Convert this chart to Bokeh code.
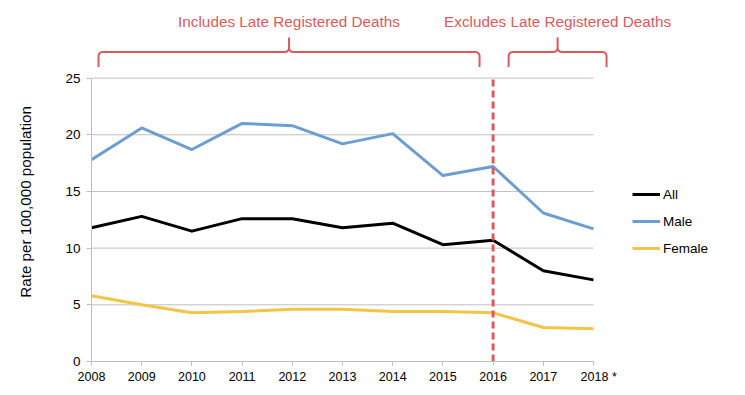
from bokeh.plotting import figure
from bokeh.models import Range1d, Legend, LegendItem, FixedTicker
from bokeh.embed import file_html
from bokeh.resources import INLINE
from bokeh.core.properties import value
import numpy as np

# ---- data ----
years = [2008, 2009, 2010, 2011, 2012, 2013, 2014, 2015, 2016, 2017, 2018]
all_rate = [11.8, 12.8, 11.5, 12.6, 12.6, 11.8, 12.2, 10.3, 10.7, 8.0, 7.2]
male_rate = [17.8, 20.6, 18.7, 21.0, 20.8, 19.2, 20.1, 16.4, 17.2, 13.1, 11.7]
female_rate = [5.8, 5.0, 4.3, 4.4, 4.6, 4.6, 4.4, 4.4, 4.3, 3.0, 2.9]
series_names = ["All", "Male", "Female"]
y_ticks = [0, 5, 10, 15, 20, 25]
y_label = "Rate per 100,000 population"
divider_year = 2016
period_labels = ["Includes Late Registered Deaths", "Excludes Late Registered Deaths"]
period_spans = [(2008.14, 2015.73), (2016.31, 2018.26)]
footnote_year = 2018
footnote_mark = "*"

# ---- style ----
FONT = "Liberation Sans"
RED = "#DC5A5E"
GRID = "#BFBFBF"
colors = ["#000000", "#6D9ED1", "#F4C446"]

W, H = 737, 387
LEFT, TOP, BOTTOM = 91, 8, 26
frame_w = W - LEFT
frame_h = H - TOP - BOTTOM
x_start = years[0]
x_end = years[0] + frame_w / 50.2
y_end = frame_h / 11.336

p = figure(width=W, height=H, output_backend="svg", toolbar_location=None,
           x_range=Range1d(x_start, x_end), y_range=Range1d(0, y_end),
           min_border_left=LEFT, min_border_bottom=BOTTOM, min_border_top=TOP,
           min_border_right=0)
p.outline_line_color = None
p.xgrid.visible = False
p.ygrid.visible = False
p.background_fill_color = "white"
p.border_fill_color = "white"

nb = "\u00a0"

# axes
xa = p.xaxis[0]
xa.ticker = FixedTicker(ticks=years)
xa.bounds = (years[0], years[-1])
xa.axis_line_color = GRID
xa.major_tick_line_color = GRID
xa.major_tick_out = 4
xa.major_tick_in = 0
xa.minor_tick_line_color = None
xa.major_label_text_font = FONT
xa.major_label_text_font_size = "12.5px"
xa.major_label_text_color = "#000000"
xa.major_label_standoff = 4
xa.major_label_overrides = {footnote_year: nb * 3 + str(footnote_year) + nb + footnote_mark}

ya = p.yaxis[0]
ya.ticker = FixedTicker(ticks=y_ticks)
ya.bounds = (y_ticks[0], y_ticks[-1])
ya.axis_line_color = GRID
ya.major_tick_line_color = GRID
ya.major_tick_out = 5
ya.major_tick_in = 0
ya.minor_tick_line_color = None
ya.major_label_text_font = FONT
ya.major_label_text_font_size = "13.5px"
ya.major_label_text_color = "#000000"
ya.major_label_standoff = 6
# trailing no-break spaces shift the centred label down along the axis
ya.axis_label = y_label + nb * 8
ya.axis_label_text_font = FONT
ya.axis_label_text_font_size = "15.2px"
ya.axis_label_text_font_style = "normal"
ya.axis_label_text_color = "#000000"
ya.axis_label_standoff = 28

# horizontal gridlines
grid_y = [t for t in y_ticks if t > 0]
p.segment(x0=[years[0]] * len(grid_y), y0=grid_y, x1=[years[-1]] * len(grid_y), y1=grid_y,
          line_color=GRID, line_width=1)

# data lines
renderers = []
for name, vals, col in zip(series_names, [all_rate, male_rate, female_rate], colors):
    r = p.line(years, vals, line_color=col, line_width=3, line_join="round")
    renderers.append(r)

# divider
p.segment(x0=[divider_year], y0=[y_ticks[0]], x1=[divider_year], y1=[y_ticks[-1]],
          line_color=RED, line_width=3, line_dash="7 4")

# braces
rx = 4 / 50.2
ry = 4 / 11.336
y_top, y_low, y_tip, y_text = 27.3, 25.97, 28.52, 30.02

def arc(cx, cy, t0, t1, n=6):
    t = np.linspace(t0, t1, n)
    return list(cx + rx * np.cos(t)), list(cy + ry * np.sin(t))

bx, by = [], []
centers = []
for a, b in period_spans:
    c = (a + b) / 2
    centers.append(c)
    xs, ys = [a], [y_low]
    for (cx, cy, t0, t1) in [(a + rx, y_top - ry, np.pi, np.pi / 2),
                             (c - rx, y_top + ry, -np.pi / 2, 0)]:
        ax_, ay_ = arc(cx, cy, t0, t1)
        xs += ax_; ys += ay_
    xs.append(c); ys.append(y_tip)
    xs.append(c); ys.append(y_top + ry)
    for (cx, cy, t0, t1) in [(c + rx, y_top + ry, np.pi, 1.5 * np.pi),
                             (b - rx, y_top - ry, np.pi / 2, 0)]:
        ax_, ay_ = arc(cx, cy, t0, t1)
        xs += ax_; ys += ay_
    xs.append(b); ys.append(y_low)
    bx.append(xs); by.append(ys)

p.multi_line(bx, by, line_color=RED, line_width=2, line_join="round")
p.text(x=centers, y=[y_text] * len(centers), text=period_labels,
       text_font=value(FONT), text_font_size=value("15.3px"), text_color=RED,
       text_align="center", text_baseline="middle")

# legend
items = [LegendItem(label=n, renderers=[r]) for n, r in zip(series_names, renderers)]
legend = Legend(items=items, location=(541, 103), orientation="vertical")
legend.border_line_color = None
legend.background_fill_alpha = 0
legend.padding = 0
legend.margin = 0
legend.spacing = 7
legend.glyph_width = 28
legend.glyph_height = 20
legend.label_height = 20
legend.label_standoff = 3
legend.label_text_font = FONT
legend.label_text_font_size = "13.5px"
legend.label_text_color = "#000000"
p.add_layout(legend)

open("out.html", "w").write(file_html(p, INLINE))
